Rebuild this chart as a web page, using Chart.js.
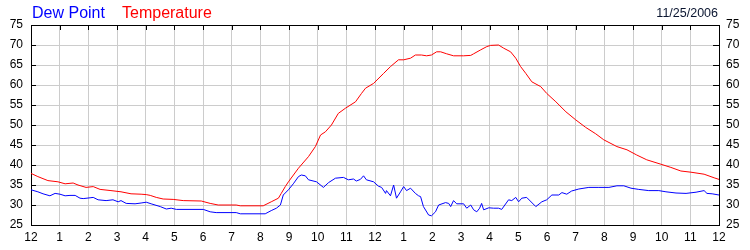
<!DOCTYPE html>
<html>
<head>
<meta charset="utf-8">
<script src="https://cdn.jsdelivr.net/npm/chart.js@4.4.1/dist/chart.umd.min.js"></script>
<style>
  html, body { margin: 0; padding: 0; background: #fff; }
</style>
</head>
<body>
<canvas id="weatherChart" width="750" height="250"></canvas>
<script>
// hour labels along the bottom (midnight to midnight)
const hourLabels = ["12","1","2","3","4","5","6","7","8","9","10","11","12","1","2","3","4","5","6","7","8","9","10","11","12"];
const dateLabel = "11/25/2006";

// temperature (hours since midnight, deg F)
const tempHours = [0, 0.24, 0.59, 0.94, 1.19, 1.47, 1.64, 1.92, 2.17, 2.41, 2.79, 3.14, 3.49, 3.84, 4.02, 4.16, 4.37, 4.61, 4.96, 5.31, 5.94, 6.25, 6.53, 7.16, 7.3, 8.1, 8.38, 8.63, 8.73, 8.87, 8.98, 9.33, 9.68, 9.92, 10.1, 10.27, 10.48, 10.72, 10.97, 11.32, 11.53, 11.67, 11.95, 12.3, 12.54, 12.82, 13.0, 13.24, 13.41, 13.62, 13.8, 13.97, 14.15, 14.29, 14.5, 14.74, 15.09, 15.34, 15.44, 15.69, 15.9, 16.03, 16.31, 16.49, 16.73, 16.91, 17.08, 17.26, 17.47, 17.78, 17.99, 18.31, 18.66, 19.0, 19.35, 19.7, 19.98, 20.44, 20.79, 21.13, 21.48, 21.97, 22.32, 22.67, 23.02, 23.48, 23.83, 24];
const tempValues = [37.9, 37.1, 36.1, 35.8, 35.3, 35.5, 35.0, 34.4, 34.6, 33.9, 33.6, 33.3, 32.8, 32.7, 32.6, 32.4, 31.9, 31.5, 31.4, 31.1, 31.0, 30.4, 30.0, 30.0, 29.8, 29.8, 30.8, 31.7, 32.9, 34.6, 35.8, 39.2, 42.1, 44.6, 47.5, 48.3, 50.0, 52.9, 54.2, 55.8, 57.9, 59.2, 60.4, 62.9, 64.6, 66.3, 66.3, 66.7, 67.5, 67.5, 67.3, 67.5, 68.3, 68.3, 67.8, 67.3, 67.3, 67.4, 67.8, 68.8, 69.6, 69.9, 70.0, 69.2, 68.3, 66.7, 64.6, 62.9, 60.8, 59.6, 57.9, 55.8, 53.3, 51.3, 49.4, 47.8, 46.3, 44.6, 43.8, 42.5, 41.3, 40.2, 39.4, 38.5, 38.2, 37.7, 36.8, 36.4];

// dew point
const dewHours = [0, 0.24, 0.42, 0.66, 0.84, 1.01, 1.19, 1.36, 1.54, 1.71, 1.82, 2.06, 2.17, 2.34, 2.62, 2.86, 3.04, 3.14, 3.32, 3.63, 3.84, 4.02, 4.19, 4.51, 4.72, 4.89, 5.07, 6.01, 6.25, 6.46, 7.16, 7.3, 8.17, 8.38, 8.56, 8.7, 8.8, 8.98, 9.15, 9.33, 9.43, 9.57, 9.68, 9.96, 10.2, 10.38, 10.62, 10.9, 11.07, 11.25, 11.35, 11.49, 11.6, 11.7, 11.95, 12.12, 12.23, 12.37, 12.4, 12.54, 12.65, 12.75, 12.89, 13.0, 13.1, 13.24, 13.41, 13.52, 13.59, 13.69, 13.87, 13.97, 14.11, 14.22, 14.46, 14.57, 14.64, 14.74, 14.85, 15.09, 15.2, 15.34, 15.44, 15.55, 15.65, 15.72, 15.79, 15.97, 16.14, 16.31, 16.42, 16.66, 16.77, 16.91, 17.01, 17.12, 17.29, 17.61, 17.82, 17.99, 18.17, 18.41, 18.52, 18.69, 18.86, 19.11, 19.46, 19.81, 20.16, 20.44, 20.68, 20.93, 21.2, 21.55, 21.9, 22.15, 22.5, 22.85, 23.2, 23.48, 23.58, 23.76, 24];
const dewValues = [33.8, 33.3, 32.8, 32.3, 32.9, 32.7, 32.3, 32.4, 32.4, 31.7, 31.6, 31.8, 31.9, 31.3, 31.1, 31.3, 30.8, 31.1, 30.4, 30.3, 30.5, 30.7, 30.3, 29.6, 29.0, 29.2, 28.9, 28.9, 28.3, 28.1, 28.1, 27.8, 27.8, 28.6, 29.2, 30.0, 32.5, 33.8, 35.3, 37.1, 37.5, 37.3, 36.3, 35.8, 34.4, 35.6, 36.7, 36.9, 36.3, 36.5, 36.0, 36.4, 37.3, 36.3, 35.8, 34.7, 34.4, 32.9, 33.6, 32.3, 35.0, 31.7, 33.3, 34.6, 33.6, 34.2, 32.9, 32.3, 32.1, 29.6, 27.5, 27.3, 28.3, 30.0, 30.6, 30.4, 29.6, 31.1, 30.3, 30.3, 29.2, 30.0, 28.8, 28.3, 29.2, 30.4, 28.8, 29.3, 29.2, 29.2, 28.9, 31.3, 31.1, 31.9, 30.8, 31.7, 31.9, 29.6, 30.8, 31.3, 32.5, 32.5, 33.1, 32.7, 33.5, 34.0, 34.4, 34.4, 34.4, 34.8, 34.8, 34.2, 33.9, 33.6, 33.6, 33.3, 33.0, 32.9, 33.2, 33.6, 32.9, 32.8, 32.5];

const yMin = 25, yMax = 75, yStep = 5;

Chart.defaults.font.family = '"Liberation Sans", Arial, sans-serif';
Chart.defaults.font.size = 12;
Chart.defaults.color = "#000";

function toPoints(xs, ys) {
  return xs.map((h, i) => ({ x: h, y: ys[i] }));
}

// header text and the inward tick marks on top / left / right
const frame = {
  id: "frame",
  afterDraw(chart) {
    const { ctx, chartArea: a, scales } = chart;
    ctx.save();
    ctx.strokeStyle = "#000";
    ctx.lineWidth = 1;
    ctx.beginPath();
    ctx.moveTo(a.left, a.top + 0.5);
    ctx.lineTo(a.right + 1, a.top + 0.5);
    for (let h = 0; h <= 24; h++) {
      const x = Math.round(scales.x.getPixelForValue(h)) + 0.5;
      ctx.moveTo(x, a.top);
      ctx.lineTo(x, a.top + 5);
    }
    for (let v = yMin; v <= yMax; v += yStep) {
      const y = Math.round(scales.y.getPixelForValue(v)) + 0.5;
      ctx.moveTo(a.left, y);
      ctx.lineTo(a.left + 5, y);
      ctx.moveTo(a.right - 6, y);
      ctx.lineTo(a.right, y);
    }
    ctx.stroke();

    ctx.font = '16px "Liberation Sans", Arial, sans-serif';
    ctx.textBaseline = "alphabetic";
    ctx.textAlign = "left";
    ctx.fillStyle = "#0000ff";
    ctx.fillText("Dew Point", 32, 18);
    ctx.fillStyle = "#ff0000";
    ctx.fillText("Temperature", 122, 18);

    ctx.font = '12.5px "Liberation Sans", Arial, sans-serif';
    ctx.fillStyle = "#0a1530";
    ctx.textAlign = "right";
    ctx.fillText(dateLabel, 718, 17);
    ctx.restore();
  }
};

new Chart(document.getElementById("weatherChart"), {
  type: "line",
  data: {
    datasets: [
      {
        label: "Dew Point",
        data: toPoints(dewHours, dewValues),
        borderColor: "#0000ff",
        borderWidth: 1,
        pointRadius: 0,
        tension: 0
      },
      {
        label: "Temperature",
        data: toPoints(tempHours, tempValues),
        borderColor: "#ff0000",
        borderWidth: 1,
        pointRadius: 0,
        tension: 0
      }
    ]
  },
  options: {
    responsive: false,
    animation: false,
    devicePixelRatio: 1,
    layout: { padding: { top: 25, left: 0, right: 0, bottom: 0 } },
    plugins: { legend: { display: false }, tooltip: { enabled: false } },
    scales: {
      x: {
        type: "linear",
        min: 0,
        max: 24,
        afterBuildTicks: s => { s.ticks = hourLabels.map((_, i) => ({ value: i })); },
        afterFit: s => { s.height = 25; },
        ticks: {
          autoSkip: false,
          maxRotation: 0,
          padding: 5,
          callback: v => hourLabels[v]
        },
        grid: { color: "#cccccc", drawTicks: false },
        border: { color: "#000", width: 1 }
      },
      y: {
        position: "left",
        min: yMin,
        max: yMax,
        afterFit: s => { s.width = 31; },
        ticks: { stepSize: yStep, padding: 8 },
        grid: { color: "#cccccc", drawTicks: false },
        border: { color: "#000", width: 1 }
      },
      y2: {
        position: "right",
        min: yMin,
        max: yMax,
        afterFit: s => { s.width = 31; },
        ticks: { stepSize: yStep, padding: 7 },
        grid: { drawOnChartArea: false, drawTicks: false },
        border: { color: "#000", width: 1 }
      }
    }
  },
  plugins: [frame]
});
</script>
</body>
</html>
